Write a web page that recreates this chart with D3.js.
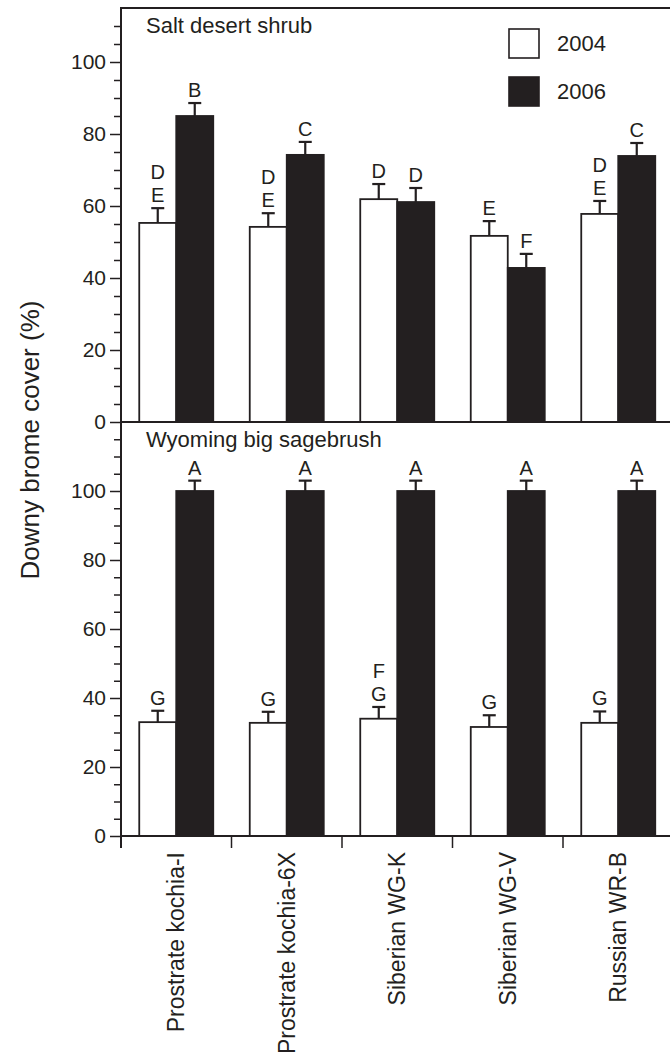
<!DOCTYPE html>
<html>
<head>
<meta charset="utf-8">
<script src="https://cdn.jsdelivr.net/npm/d3@7"></script>
<style>
  body { margin: 0; background: #fff; }
  svg { display: block; font-family: "Liberation Sans", Arial, Helvetica, sans-serif; }
</style>
</head>
<body>
<svg></svg>
<script>
const categories = ['Prostrate kochia-I', 'Prostrate kochia-6X', 'Siberian WG-K', 'Siberian WG-V', 'Russian WR-B'];
const years = ['2004', '2006'];

// Salt desert shrub
const salt2004 = [55.3, 54.2, 61.9, 51.7, 57.8];
const salt2004Err = [4.1, 3.8, 4.2, 4.1, 3.6];
const salt2006 = [85.0, 74.2, 61.1, 42.8, 73.9];
const salt2006Err = [3.6, 3.6, 3.9, 3.9, 3.6];
const saltLetters2004 = ['DE', 'DE', 'D', 'E', 'DE'];
const saltLetters2006 = ['B', 'C', 'D', 'F', 'C'];

// Wyoming big sagebrush
const sage2004 = [33.0, 32.8, 34.0, 31.6, 32.8];
const sage2004Err = [3.3, 3.2, 3.4, 3.4, 3.3];
const sage2006 = [100, 100, 100, 100, 100];
const sage2006Err = [3.0, 3.0, 3.0, 3.0, 3.0];
const sageLetters2004 = ['G', 'G', 'FG', 'G', 'G'];
const sageLetters2006 = ['A', 'A', 'A', 'A', 'A'];

const majorTicks = [0, 20, 40, 60, 80, 100];

const W = 670, H = 1057;
const left = 121, ink = '#231f20';

const svg = d3.select('svg').attr('width', W).attr('height', H);

let x = d3.scaleBand()
    .domain(categories)
    .range([left, left + 5 * 110.5]);

let xSub = d3.scaleBand()
    .domain(years)
    .range([18.25, x.bandwidth() - 18.25]);

let panels = [
    {title: 'Salt desert shrub', domain: [0, 115], range: [422, 8],
     v: [salt2004, salt2006], e: [salt2004Err, salt2006Err], l: [saltLetters2004, saltLetters2006]},
    {title: 'Wyoming big sagebrush', domain: [0, 120], range: [836, 422],
     v: [sage2004, sage2006], e: [sage2004Err, sage2006Err], l: [sageLetters2004, sageLetters2006]}
];

panels.forEach(p => {
    let y = d3.scaleLinear().domain(p.domain).range(p.range);
    let g = svg.append('g');

    // minor ticks
    let minors = d3.range(5, p.domain[1], 5).filter(v => v % 20 !== 0 || v > 100);
    g.append('g')
        .attr('transform', `translate(${left},0)`)
        .call(d3.axisLeft(y).tickValues(minors).tickSize(7).tickFormat(''))
        .call(a => a.select('.domain').remove())
        .selectAll('line').attr('stroke', ink).attr('stroke-width', 1.5);

    // major ticks
    g.append('g')
        .attr('transform', `translate(${left},0)`)
        .call(d3.axisLeft(y).tickValues(majorTicks).tickSize(11).tickPadding(4))
        .call(a => a.select('.domain').remove())
        .call(a => a.selectAll('line').attr('stroke', ink).attr('stroke-width', 1.5))
        .selectAll('text')
            .attr('fill', ink)
            .style('font-size', '21px');

    let rows = [];
    categories.forEach((c, i) => {
        years.forEach((yr, k) => {
            rows.push({c, yr, v: p.v[k][i], e: p.e[k][i], l: p.l[k][i]});
        });
    });

    // bars
    g.selectAll('rect.bar')
        .data(rows)
        .enter()
        .append('rect')
            .attr('x', d => x(d.c) + xSub(d.yr))
            .attr('width', xSub.bandwidth())
            .attr('y', d => y(d.v))
            .attr('height', d => y(0) - y(d.v))
            .attr('fill', d => d.yr === '2004' ? '#fff' : ink)
            .attr('stroke', ink)
            .attr('stroke-width', 1.8);

    // error bars
    let cx = d => x(d.c) + xSub(d.yr) + xSub.bandwidth() / 2;
    g.selectAll('line.err')
        .data(rows)
        .enter()
        .append('line')
            .attr('x1', cx).attr('x2', cx)
            .attr('y1', d => y(d.v)).attr('y2', d => y(d.v + d.e))
            .attr('stroke', ink).attr('stroke-width', 2.2);
    g.selectAll('line.cap')
        .data(rows)
        .enter()
        .append('line')
            .attr('x1', d => cx(d) - 6.5).attr('x2', d => cx(d) + 6.5)
            .attr('y1', d => y(d.v + d.e)).attr('y2', d => y(d.v + d.e))
            .attr('stroke', ink).attr('stroke-width', 2.2);

    // letters (stacked, first letter on top)
    rows.forEach(d => {
        let letters = d.l.split('');
        letters.forEach((ch, j) => {
            g.append('text')
                .attr('x', cx(d))
                .attr('y', y(d.v + d.e) - 6 - (letters.length - 1 - j) * 23)
                .attr('text-anchor', 'middle')
                .attr('fill', ink)
                .style('font-size', '20px')
                .text(ch);
        });
    });

    // panel title
    g.append('text')
        .attr('x', 146)
        .attr('y', p.range[1] + 25)
        .attr('fill', ink)
        .style('font-size', '22px')
        .text(p.title);

    // baseline / divider
    g.append('line')
        .attr('x1', left).attr('x2', W)
        .attr('y1', y(0)).attr('y2', y(0))
        .attr('stroke', ink).attr('stroke-width', 2);
});

// top frame and left axis
svg.append('line')
    .attr('x1', left).attr('x2', W).attr('y1', 8).attr('y2', 8)
    .attr('stroke', ink).attr('stroke-width', 2);
svg.append('line')
    .attr('x1', left).attr('x2', left).attr('y1', 7).attr('y2', 848)
    .attr('stroke', ink).attr('stroke-width', 2);

// x axis: boundary ticks and rotated labels
svg.append('g')
    .selectAll('line')
    .data(categories)
    .enter()
    .append('line')
        .attr('x1', d => x(d)).attr('x2', d => x(d))
        .attr('y1', 836).attr('y2', 848)
        .attr('stroke', ink).attr('stroke-width', 1.5);

let xAxis = svg.append('g')
    .attr('transform', 'translate(0,836)')
    .call(d3.axisBottom(x).tickSize(0).tickPadding(0));
xAxis.select('.domain').remove();
xAxis.selectAll('text')
    .attr('fill', ink)
    .style('font-size', '23px')
    .attr('text-anchor', 'end')
    .attr('transform', 'translate(0,16) rotate(-90)')
    .attr('x', 0)
    .attr('y', 0)
    .attr('dy', '0.35em');

// legend
let legend = svg.append('g').attr('transform', 'translate(509,29)');
years.forEach((yr, i) => {
    legend.append('rect')
        .attr('x', 0).attr('y', i * 48)
        .attr('width', 30).attr('height', 29)
        .attr('fill', yr === '2004' ? '#fff' : ink)
        .attr('stroke', ink).attr('stroke-width', 1.6);
    legend.append('text')
        .attr('x', 48).attr('y', i * 48 + 22)
        .attr('fill', ink)
        .style('font-size', '22px')
        .text(yr);
});

// y axis title
svg.append('text')
    .attr('transform', 'translate(39,440) rotate(-90)')
    .attr('text-anchor', 'middle')
    .attr('fill', ink)
    .style('font-size', '26px')
    .text('Downy brome cover (%)');
</script>
</body>
</html>
